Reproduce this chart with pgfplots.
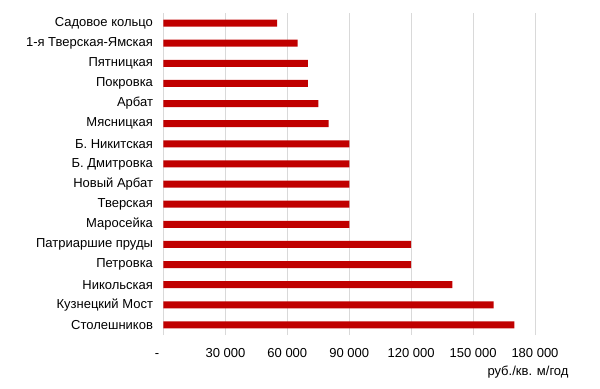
\documentclass[border=0pt]{standalone}
\usepackage{pgfplots}
\usepackage{pgfplotstable}
\pgfplotsset{compat=1.18}
\usepackage{fontspec}
\setmainfont{Liberation Sans}
\definecolor{barred}{RGB}{192,0,0}
\definecolor{gridgray}{RGB}{217,217,217}

\pgfplotstableread{
y v
0 170000
1 160000
2 140000
3 120000
4 120000
5 90000
6 90000
7 90000
8 90000
9 90000
10 80000
11 75000
12 70000
13 70000
14 65000
15 55000
}\datatable

\begin{document}
\begin{tikzpicture}
\begin{axis}[
  name=main,
  at={(0,0)}, anchor=south west,
  scale only axis,
  width=371.5bp, height=322bp,
  xbar, bar width=7bp,
  xmin=0, xmax=180000,
  ymin=-0.5, ymax=15.5,
  axis lines*=left,
  x axis line style={draw=none},
  y axis line style={draw=gridgray},
  xmajorgrids,
  grid style={draw=gridgray, line width=0.8pt},
  major tick length=0pt,
  scaled x ticks=false,
  xtick={0,30000,60000,90000,120000,150000,180000},
  xticklabels={{\vphantom{0}-\hspace{13bp}\mbox{}},30 000,60 000,90 000,120 000,150 000,180 000},
  ytick={0,...,15},
  yticklabels={Столешников,Кузнецкий Мост,Никольская,Петровка,Патриаршие пруды,Маросейка,Тверская,Новый Арбат,Б. Дмитровка,Б. Никитская,Мясницкая,Арбат,Покровка,Пятницкая,1-я Тверская-Ямская,Садовое кольцо},
  tick label style={font=\fontsize{13bp}{15bp}\selectfont, text=black},
  xticklabel style={yshift=-9.5bp},
  yticklabel style={xshift=-7bp},
  xlabel={руб./кв. м/год},
  xlabel style={at={(axis description cs:1,0)}, anchor=east, xshift=37bp, yshift=-37bp, font=\fontsize{13bp}{15bp}\selectfont},
  /pgf/number format/assume math mode=true,
]
\addplot[fill=barred, draw=none] table[x=v, y=y] {\datatable};
\end{axis}
\path[use as bounding box] (-163.5bp,-54bp) rectangle (436.5bp,335bp);
\end{tikzpicture}
\end{document}
